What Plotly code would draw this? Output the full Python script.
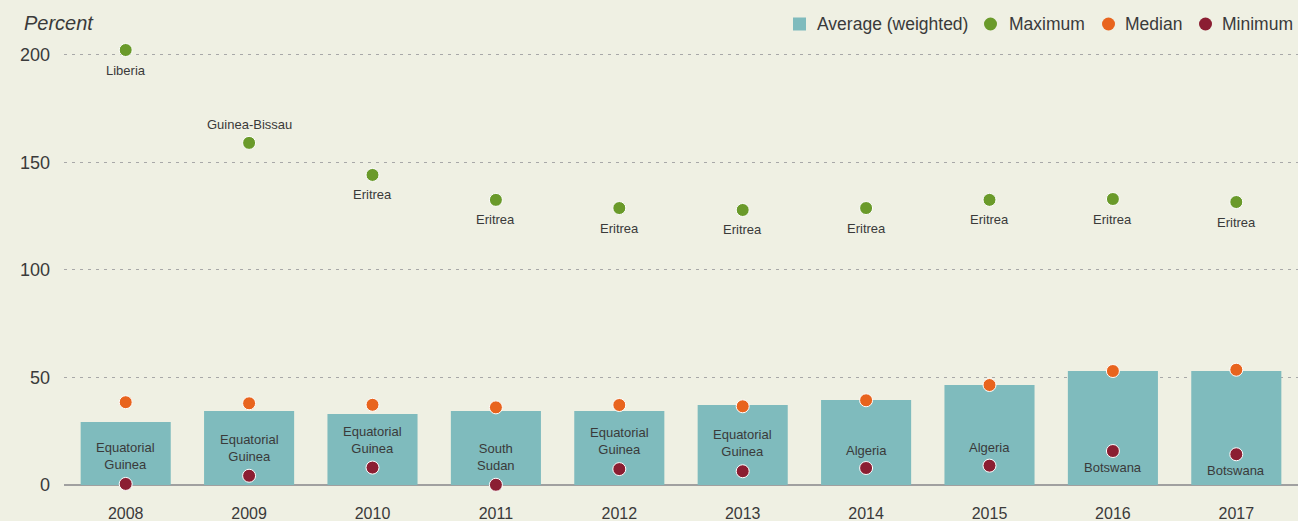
import plotly.graph_objects as go

YEARS = ["2008", "2009", "2010", "2011", "2012", "2013", "2014", "2015", "2016", "2017"]
AVERAGE = [29.3, 34.4, 33.0, 34.4, 34.4, 37.2, 39.5, 46.5, 53.0, 53.0]
MAXIMUM = [202.3, 159.1, 144.2, 132.6, 128.8, 127.9, 128.8, 132.6, 133.0, 131.6]
MEDIAN = [38.5, 38.0, 37.3, 36.1, 37.2, 36.6, 39.4, 46.5, 53.0, 53.6]
MINIMUM = [0.5, 4.3, 8.1, 0.1, 7.4, 6.4, 7.9, 9.0, 15.8, 14.3]

MAX_COUNTRY = ["Liberia", "Guinea-Bissau", "Eritrea", "Eritrea", "Eritrea",
               "Eritrea", "Eritrea", "Eritrea", "Eritrea", "Eritrea"]
MIN_COUNTRY = ["Equatorial<br>Guinea", "Equatorial<br>Guinea", "Equatorial<br>Guinea",
               "South<br>Sudan", "Equatorial<br>Guinea", "Equatorial<br>Guinea",
               "Algeria", "Algeria", "Botswana", "Botswana"]

BG = "#EFF0E3"
TEAL = "#7FBBBD"
GREEN = "#6A9A2A"
ORANGE = "#E8641E"
MAROON = "#8B1E32"
TXT = "#3a3a3a"
FONT = "Liberation Sans, Arial, sans-serif"
NARROW = "Liberation Sans Narrow, Liberation Sans, Arial, sans-serif"

W, H = 1298, 521
ML, MR, MT, MB = 64, 0, 30, 36


def px_x(px):
    return (px - ML) / (W - ML - MR)


def px_y(py):
    return (H - MB - py) / (H - MT - MB)


fig = go.Figure()

fig.add_trace(go.Bar(
    x=YEARS, y=AVERAGE, name="Average (weighted)",
    marker=dict(color=TEAL, line=dict(width=0)), width=0.73,
))

dot = dict(size=13, line=dict(color="white", width=1))

fig.add_trace(go.Scatter(
    x=YEARS, y=MAXIMUM, name="Maximum", mode="markers",
    marker=dict(color=GREEN, **dot), cliponaxis=False,
))
fig.add_trace(go.Scatter(
    x=YEARS, y=MEDIAN, name="Median", mode="markers",
    marker=dict(color=ORANGE, **dot), cliponaxis=False,
))
fig.add_trace(go.Scatter(
    x=YEARS, y=MINIMUM, name="Minimum", mode="markers",
    marker=dict(color=MAROON, **dot), cliponaxis=False,
))

# country names for the maximum (Guinea-Bissau sits above its dot)
for i, (v, lab) in enumerate(zip(MAXIMUM, MAX_COUNTRY)):
    fig.add_annotation(
        x=i, y=v, text=lab, showarrow=False,
        yshift=18 if lab == "Guinea-Bissau" else -20,
        font=dict(family=NARROW, size=13, color=TXT),
    )

# country names for the minimum, placed inside the bars
for i, (v, lab) in enumerate(zip(MINIMUM, MIN_COUNTRY)):
    if "<br>" in lab:
        shift = 28
    elif lab == "Botswana":
        shift = -16
    else:
        shift = 18
    fig.add_annotation(
        x=i, y=v, text=lab, showarrow=False, yshift=shift,
        font=dict(family=NARROW, size=13, color=TXT),
    )

fig.add_annotation(
    xref="paper", yref="paper", x=px_x(22), y=px_y(23),
    xanchor="left", yanchor="middle", showarrow=False,
    text="<i>Percent</i>", font=dict(family=FONT, size=20, color=TXT),
)

# legend drawn by hand to match the tight spacing of the original
LEGEND = [
    ("Average (weighted)", TEAL, "rect", 793, 815),
    ("Maximum", GREEN, "circle", 984, 1007),
    ("Median", ORANGE, "circle", 1102, 1123),
    ("Minimum", MAROON, "circle", 1199, 1220),
]
LEG_Y = 24
for lab, col, kind, sx, tx in LEGEND:
    fig.add_shape(
        type=kind, xref="paper", yref="paper",
        xsizemode="pixel", ysizemode="pixel",
        xanchor=px_x(sx), yanchor=px_y(LEG_Y),
        x0=0, x1=13, y0=-6.5, y1=6.5,
        fillcolor=col, line=dict(width=0),
    )
    fig.add_annotation(
        xref="paper", yref="paper", x=px_x(tx), y=px_y(LEG_Y),
        xanchor="left", yanchor="middle", showarrow=False,
        text=lab, font=dict(family=FONT, size=17.5, color=TXT),
    )

fig.update_layout(
    width=W, height=H,
    paper_bgcolor=BG, plot_bgcolor=BG,
    margin=dict(l=ML, r=MR, t=MT, b=MB),
    font=dict(family=FONT, color=TXT),
    showlegend=False,
    xaxis=dict(
        type="category", range=[-0.5, 9.5], showgrid=False, showline=False,
        ticks="outside", ticklen=14, tickcolor="rgba(0,0,0,0)",
        tickfont=dict(family=FONT, size=16, color=TXT),
    ),
    yaxis=dict(
        range=[0, 211.6], tickvals=[0, 50, 100, 150, 200],
        showgrid=True, gridcolor="#A8A8A8", griddash="3px,5px", gridwidth=1,
        zeroline=True, zerolinecolor="#A0A0A0", zerolinewidth=1.5,
        showline=False, ticks="", ticklabelstandoff=13,
        tickfont=dict(family=FONT, size=18, color=TXT),
    ),
)

fig.write_html(
    "out.html",
    config={"displayModeBar": False},
    post_script="document.body.style.margin='0';",
)
